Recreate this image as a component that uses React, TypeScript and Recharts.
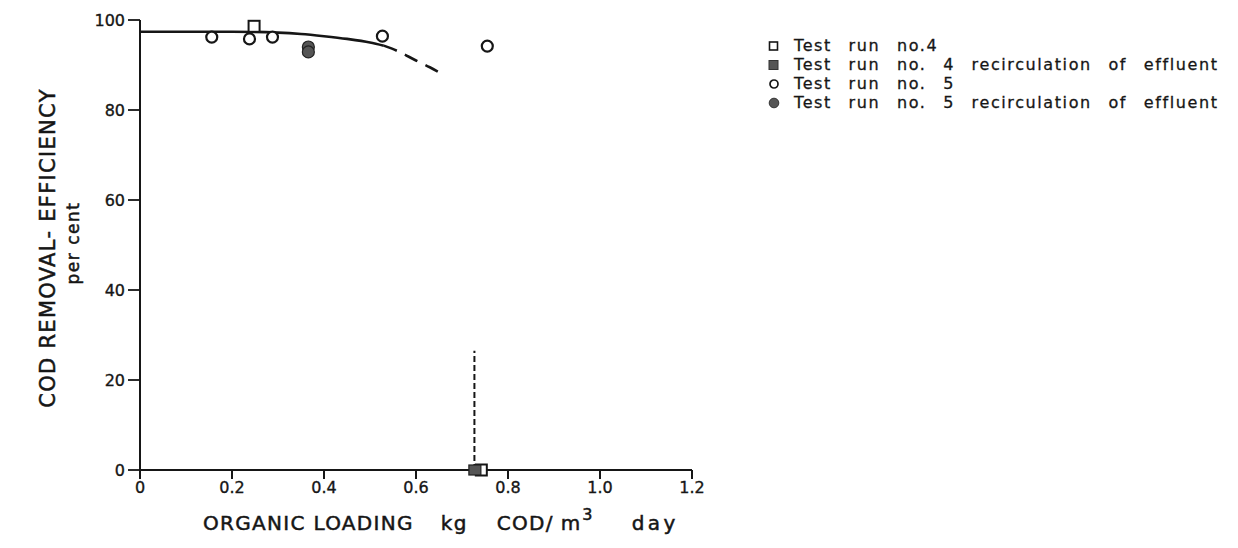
// COD removal efficiency vs organic loading — scatter with fitted curve
import React from 'react';
import {
  ComposedChart,
  Line,
  Scatter,
  XAxis,
  YAxis,
  Legend,
} from 'recharts';

// ── data ───────────────────────────────────────────────────────────────────
const run4X = [0.248, 0.742];
const run4Y = [98.6, 0];

const run4RecircX = [0.728];
const run4RecircY = [0];

const run5X = [0.156, 0.238, 0.288, 0.527, 0.755];
const run5Y = [96.2, 95.8, 96.2, 96.4, 94.2];

const run5RecircX = [0.366, 0.366];
const run5RecircY = [94.0, 92.9];

const curveX = [0, 0.1, 0.2, 0.3, 0.35, 0.4, 0.45, 0.5, 0.53];
const curveY = [97.4, 97.4, 97.4, 97.2, 96.9, 96.4, 95.8, 95.0, 94.3];

const curveDashX = [0.53, 0.56, 0.6, 0.63, 0.66];
const curveDashY = [94.3, 93.1, 91.0, 89.5, 87.8];

const failX = [0.727, 0.727];
const failY = [0, 26.5];

const xTicks = [0, 0.2, 0.4, 0.6, 0.8, 1.0, 1.2];
const yTicks = [0, 20, 40, 60, 80, 100];

const legendItems = [
  { label: 'Test run no.4', marker: 'openSquare' },
  { label: 'Test run no. 4 recirculation of effluent', marker: 'filledSquare' },
  { label: 'Test run no. 5', marker: 'openCircle' },
  { label: 'Test run no. 5 recirculation of effluent', marker: 'filledCircle' },
];

const zip = (xs: number[], ys: number[]) => xs.map((x, i) => ({ x, y: ys[i] }));

const INK = '#161616';
const FONT = "'DejaVu Sans', sans-serif";

// ── marker shapes ──────────────────────────────────────────────────────────
const OpenCircle = (p: any) => (
  <circle cx={p.cx} cy={p.cy} r={5.5} fill="#fff" stroke={INK} strokeWidth={2.2} />
);
const FilledCircle = (p: any) => (
  <circle cx={p.cx} cy={p.cy} r={6} fill="#555" stroke="#222" strokeWidth={1.2} />
);
const OpenSquare = (p: any) => (
  <rect x={p.cx - 5.5} y={p.cy - 5.5} width={11} height={11} fill="#fff" stroke={INK} strokeWidth={2} />
);
const FilledSquare = (p: any) => (
  <rect x={p.cx - 6} y={p.cy - 5} width={12} height={10} fill="#555" stroke="#222" strokeWidth={1.2} />
);

const LegendMarker: React.FC<{ kind: string }> = ({ kind }) => (
  <svg width={12} height={12} style={{ marginRight: 14, flex: 'none' }}>
    {kind === 'openSquare' && <rect x={1.5} y={2} width={8} height={8} fill="#fff" stroke={INK} strokeWidth={1.6} />}
    {kind === 'filledSquare' && <rect x={1} y={1.5} width={9} height={9} fill="#555" stroke="#333" strokeWidth={1} />}
    {kind === 'openCircle' && <circle cx={6} cy={6} r={4} fill="#fff" stroke={INK} strokeWidth={1.7} />}
    {kind === 'filledCircle' && <circle cx={6} cy={6} r={4.8} fill="#555" stroke="#333" strokeWidth={1} />}
  </svg>
);

const renderLegend = () => (
  <div
    style={{
      fontFamily: FONT,
      fontSize: 16,
      color: INK,
      letterSpacing: 1.6,
      wordSpacing: 10,
      WebkitTextStroke: '0.3px #161616',
    }}
  >
    {legendItems.map((it) => (
      <div key={it.label} style={{ display: 'flex', alignItems: 'center', height: 19, whiteSpace: 'nowrap' }}>
        <LegendMarker kind={it.marker} />
        <span>{it.label}</span>
      </div>
    ))}
  </div>
);

const YLabel = (props: any) => {
  const { viewBox } = props;
  const cy = viewBox.y + 228;
  return (
    <g fill={INK} stroke={INK} strokeWidth={0.5} fontFamily={FONT}>
      <text
        x={48}
        y={cy}
        transform={`rotate(-90 48 ${cy})`}
        textAnchor="middle"
        dominantBaseline="central"
        fontSize={21}
        letterSpacing={1.3}
      >
        COD REMOVAL- EFFICIENCY
      </text>
      <text
        x={73}
        y={cy - 5}
        transform={`rotate(-90 73 ${cy - 5})`}
        textAnchor="middle"
        dominantBaseline="central"
        fontSize={17}
        letterSpacing={1.5}
      >
        per cent
      </text>
    </g>
  );
};

const XLabel = (props: any) => {
  const { viewBox } = props;
  const x0 = viewBox.x + 63;
  const y0 = viewBox.y + 60;
  return (
    <text
      x={x0}
      y={y0}
      fill={INK}
      stroke={INK}
      strokeWidth={0.5}
      fontFamily={FONT}
      fontSize={20}
      letterSpacing={1.3}
    >
      ORGANIC LOADING
      <tspan dx={27}>kg</tspan>
      <tspan dx={29}>COD/</tspan>
      <tspan dx={7} letterSpacing={2}>m</tspan>
      <tspan dy={-10} fontSize={16}>3</tspan>
      <tspan dy={10} dx={38} letterSpacing={3.5}>day</tspan>
    </text>
  );
};

const tickStyle = { fill: INK, stroke: INK, strokeWidth: 0.35, fontSize: 16, fontFamily: FONT };

const App: React.FC = () => {
  return (
    <div style={{ position: 'absolute', left: 0, top: 0, width: 1238, height: 548, background: '#fff' }}>
      <ComposedChart width={1238} height={548} margin={{ top: 20, right: 546, bottom: 0, left: 0 }}>
        <XAxis
          type="number"
          dataKey="x"
          domain={[0, 1.2]}
          ticks={xTicks}
          tickFormatter={(v: number) => (v === 0 ? '0' : v.toFixed(1))}
          height={78}
          axisLine={{ stroke: INK, strokeWidth: 2 }}
          tickLine={{ stroke: INK, strokeWidth: 2 }}
          tickSize={9}
          tickMargin={3}
          tick={tickStyle}
          label={<XLabel />}
        />
        <YAxis
          type="number"
          dataKey="y"
          domain={[0, 100]}
          ticks={yTicks}
          width={140}
          axisLine={{ stroke: INK, strokeWidth: 2 }}
          tickLine={{ stroke: INK, strokeWidth: 1.8 }}
          tickSize={12}
          tickMargin={3}
          tick={tickStyle}
          label={<YLabel />}
        />
        <Legend
          content={renderLegend}
          layout="horizontal"
          verticalAlign="middle"
          align="center"
          wrapperStyle={{ left: 768, top: 36, width: 470, height: 80 }}
        />
        <Line
          data={zip(curveX, curveY)}
          dataKey="y"
          type="monotone"
          stroke={INK}
          strokeWidth={2.6}
          dot={false}
          legendType="none"
          isAnimationActive={false}
        />
        <Line
          data={zip(curveDashX, curveDashY)}
          dataKey="y"
          type="monotone"
          stroke={INK}
          strokeWidth={2.6}
          strokeDasharray="14 9"
          dot={false}
          legendType="none"
          isAnimationActive={false}
        />
        <Line
          data={zip(failX, failY)}
          dataKey="y"
          type="linear"
          stroke={INK}
          strokeWidth={2}
          strokeDasharray="6 3"
          dot={false}
          legendType="none"
          isAnimationActive={false}
        />
        <Scatter name="Test run no.4" data={zip(run4X, run4Y)} shape={OpenSquare} isAnimationActive={false} />
        <Scatter
          name="Test run no. 4 recirculation of effluent"
          data={zip(run4RecircX, run4RecircY)}
          shape={FilledSquare}
          isAnimationActive={false}
        />
        <Scatter name="Test run no. 5" data={zip(run5X, run5Y)} shape={OpenCircle} isAnimationActive={false} />
        <Scatter
          name="Test run no. 5 recirculation of effluent"
          data={zip(run5RecircX, run5RecircY)}
          shape={FilledCircle}
          isAnimationActive={false}
        />
      </ComposedChart>
    </div>
  );
};

export default App;
